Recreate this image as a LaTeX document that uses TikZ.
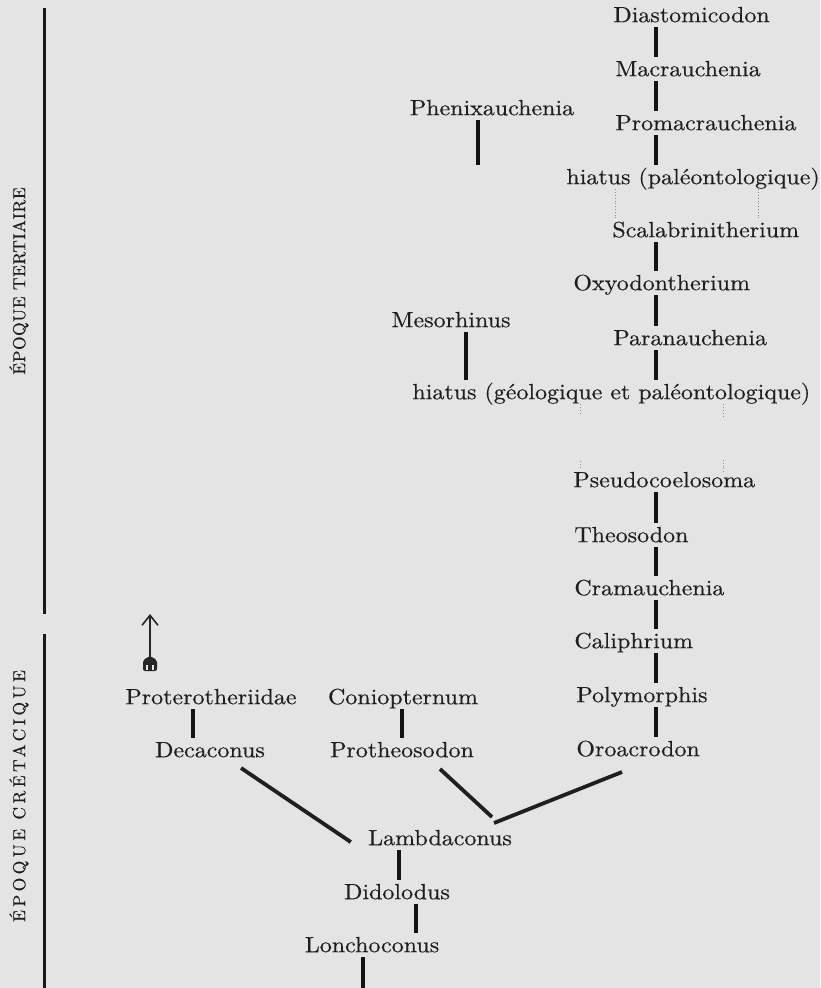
\documentclass[tikz,border=0pt]{standalone}
\usepackage{fontspec}
\usetikzlibrary{calc,arrows.meta}
\newfontfamily\taxfont{lmroman10-regular.otf}[FakeStretch=1.09, FakeBold=0.4]
\newfontfamily\erafont{lmroman10-regular.otf}[LetterSpace=3, FakeBold=0.3]
\newfontfamily\erawidefont{lmroman10-regular.otf}[LetterSpace=20, FakeBold=0.3]
\definecolor{paper}{HTML}{E4E4E4}
\definecolor{ink}{HTML}{1E1E1E}

\begin{document}
\begin{tikzpicture}[
  x=0.5pt, y=-0.5pt,
  taxon/.style={inner sep=1pt, text height=8.6pt, text depth=1.4pt, font=\taxfont\fontsize{11}{14}\selectfont, text=ink},
  era/.style={rotate=90, inner sep=0pt, text=ink},
  bar/.style={line width=1.9pt, black!92},
  link/.style={line width=1.9pt, black!88},
  gap/.style={densely dotted, line width=0.4pt, black!45},
  epoch/.style={line width=1.5pt, black!90}
]
  \fill[paper] (0,0) rectangle (820,988);
  \useasboundingbox (0,0) rectangle (820,988);

  \node[era, font=\erafont\fontsize{8.7}{10}\selectfont] (tertiaire) at (19,281) {ÉPOQUE TERTIAIRE};
  \node[era, font=\erawidefont\fontsize{8.7}{10}\selectfont] (cretacique) at (19,796) {ÉPOQUE CRÉTACIQUE};
  \draw[epoch] (44,8) -- (44,614);
  \draw[epoch] (44,634) -- (44,988);

  \node[taxon, anchor=west] (diasto) at (611,15) {Diastomicodon};
  \node[taxon, anchor=west] (macra) at (613,69) {Macrauchenia};
  \node[taxon, anchor=west] (promacra) at (613,123) {Promacrauchenia};
  \node[taxon, anchor=west] (hiatA) at (564,177) {hiatus (paléontologique)};
  \node[taxon, anchor=west] (scala) at (610,230) {Scalabrinitherium};
  \node[taxon, anchor=west] (oxyo) at (571,283) {Oxyodontherium};
  \node[taxon, anchor=west] (parana) at (611,338) {Paranauchenia};
  \node[taxon, anchor=west] (hiatB) at (410,392) {hiatus (géologique et paléontologique)};
  \node[taxon, anchor=west] (pseudo) at (571,480) {Pseudocoelosoma};
  \node[taxon, anchor=west] (theo) at (572,535) {Theosodon};
  \node[taxon, anchor=west] (crama) at (572,588) {Cramauchenia};
  \node[taxon, anchor=west] (cali) at (572,641) {Caliphrium};
  \node[taxon, anchor=west] (poly) at (574,695) {Polymorphis};
  \node[taxon, anchor=west] (oroa) at (574,749) {Oroacrodon};

  \node[taxon] (phenix) at (492,108) {Phenixauchenia};
  \node[taxon] (meso) at (451,320) {Mesorhinus};
  \node[taxon] (proter) at (211,697) {Proterotheriidae};
  \node[taxon] (decac) at (210,750) {Decaconus};
  \node[taxon] (conio) at (403,697) {Coniopternum};
  \node[taxon] (prothe) at (402,750) {Protheosodon};
  \node[taxon] (lambda) at (440,838) {Lambdaconus};
  \node[taxon] (didol) at (397,892) {Didolodus};
  \node[taxon] (lonch) at (372,945) {Lonchoconus};

  \coordinate (colx) at (656,0);
  \draw[bar] (diasto.south -| colx) -- (macra.north -| colx);
  \draw[bar] (macra.south -| colx) -- (promacra.north -| colx);
  \draw[bar] (promacra.south -| colx) -- (hiatA.north -| colx);
  \draw[bar] (scala.south -| colx) -- (oxyo.north -| colx);
  \draw[bar] (oxyo.south -| colx) -- (parana.north -| colx);
  \draw[bar] (parana.south -| colx) -- (hiatB.north -| colx);
  \draw[bar] (pseudo.south -| colx) -- (theo.north -| colx);
  \draw[bar] (theo.south -| colx) -- (crama.north -| colx);
  \draw[bar] (crama.south -| colx) -- (cali.north -| colx);
  \draw[bar] (cali.south -| colx) -- (poly.north -| colx);
  \draw[bar] (poly.south -| colx) -- (oroa.north -| colx);

  \coordinate (phenixend) at (478,165);
  \draw[bar] (phenix.south -| phenixend) -- (phenixend);
  \draw[bar] (meso.south -| 466,0) -- (hiatB.north -| 466,0);

  \draw[gap] (hiatA.south -| 615,0) -- (scala.north -| 615,0);
  \draw[gap] (hiatA.south -| 758,0) -- (scala.north -| 758,0);
  \coordinate (gapA) at (580,414);
  \coordinate (gapB) at (723,417);
  \coordinate (gapC) at (580,461);
  \coordinate (gapD) at (723,460);
  \draw[gap] (hiatB.south -| gapA) -- (gapA);
  \draw[gap] (hiatB.south -| gapB) -- (gapB);
  \draw[gap] (gapC) -- (pseudo.north -| gapC);
  \draw[gap] (gapD) -- ($(pseudo.north -| gapD)+(0,4)$);

  \draw[bar] (proter.south -| 193,0) -- (decac.north -| 193,0);
  \draw[bar] (conio.south -| 402,0) -- (prothe.north -| 402,0);
  \draw[bar] (lambda.south -| 399,0) -- (didol.north -| 399,0);
  \draw[bar] (didol.south -| 416,0) -- (lonch.north -| 416,0);
  \coordinate (lonchend) at (363,988);
  \draw[bar] (lonch.south -| lonchend) -- (lonchend);

  \coordinate (fork) at (493,820);
  \draw[link] ($(decac.center)+(31,18)$) -- ($(lambda.west)+(-15,4)$);
  \draw[link] ($(prothe.center)+(38,19)$) -- ($(fork)+(-1,-3)$);
  \draw[link] ($(oroa.west)+(48,23)$) -- ($(fork)+(1,3)$);

  \coordinate (arrowbase) at (150,671);
  \coordinate (arrowtip) at (150,614);
  \fill[black!85, rounded corners=1pt] (143,671) -- (143,660) -- (150,656) -- (157,660) -- (157,671) -- cycle;
  \draw[paper, line width=0.6pt] (147,670) -- (147,665) (153,670) -- (153,665);
  \draw[line width=0.8pt, black!85, -{Straight Barb[length=5pt, width=8pt]}] (arrowbase) -- (arrowtip);
\end{tikzpicture}
\end{document}
